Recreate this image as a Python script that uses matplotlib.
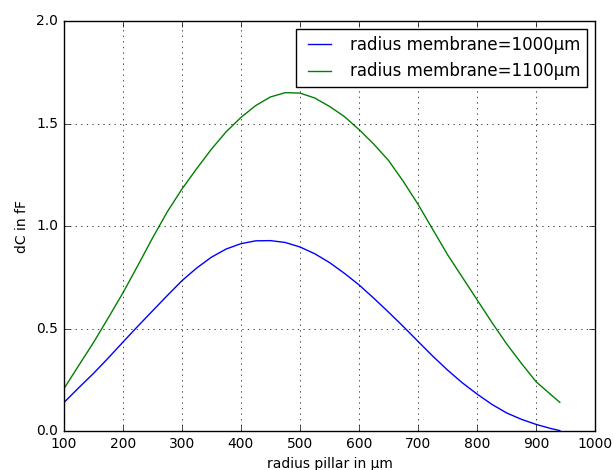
import matplotlib
matplotlib.use("Agg")
import matplotlib.pyplot as plt

# values
radius_pillar = [100, 125, 150, 175, 200, 225, 250, 275, 300, 325, 350, 375,
                 400, 425, 450, 475, 500, 525, 550, 575, 600, 625, 650, 675,
                 700, 725, 750, 775, 800, 825, 850, 875, 900, 925, 940]
dc_1000 = [0.138, 0.21, 0.28, 0.355, 0.433, 0.51, 0.585, 0.66, 0.733, 0.795,
           0.848, 0.888, 0.914, 0.928, 0.929, 0.92, 0.898, 0.865, 0.822, 0.77,
           0.713, 0.648, 0.58, 0.51, 0.437, 0.365, 0.297, 0.235, 0.18, 0.13,
           0.088, 0.057, 0.032, 0.012, 0.002]
dc_1100 = [0.205, 0.318, 0.43, 0.55, 0.673, 0.805, 0.94, 1.068, 1.18, 1.28,
           1.375, 1.46, 1.53, 1.588, 1.63, 1.651, 1.649, 1.625, 1.584, 1.535,
           1.471, 1.40, 1.32, 1.218, 1.106, 0.983, 0.86, 0.75, 0.64, 0.53,
           0.425, 0.33, 0.24, 0.177, 0.14]
labels = ["radius membrane=1000\u00b5m", "radius membrane=1100\u00b5m"]

plt.style.use("classic")
plt.rcParams["font.family"] = ["DejaVu Sans"]
plt.rcParams["font.size"] = 10

fig = plt.figure(figsize=(6.13, 4.70), dpi=100, facecolor="white")
ax = fig.add_axes([0.104, 0.083, 0.867, 0.872])

ax.plot(radius_pillar, dc_1000, color="b", lw=1, label=labels[0])
ax.plot(radius_pillar, dc_1100, color="g", lw=1, label=labels[1])

ax.set_xlim(100, 1000)
ax.set_ylim(0, 2.0)
ax.set_xticks(range(100, 1001, 100))
ax.set_yticks([0.0, 0.5, 1.0, 1.5, 2.0])
ax.set_xlabel("radius pillar in \u00b5m")
ax.set_ylabel("dC in fF")
ax.grid(True)
ax.legend(loc="upper right", fontsize=12)

fig.savefig("out.png", dpi=100, facecolor="white")
